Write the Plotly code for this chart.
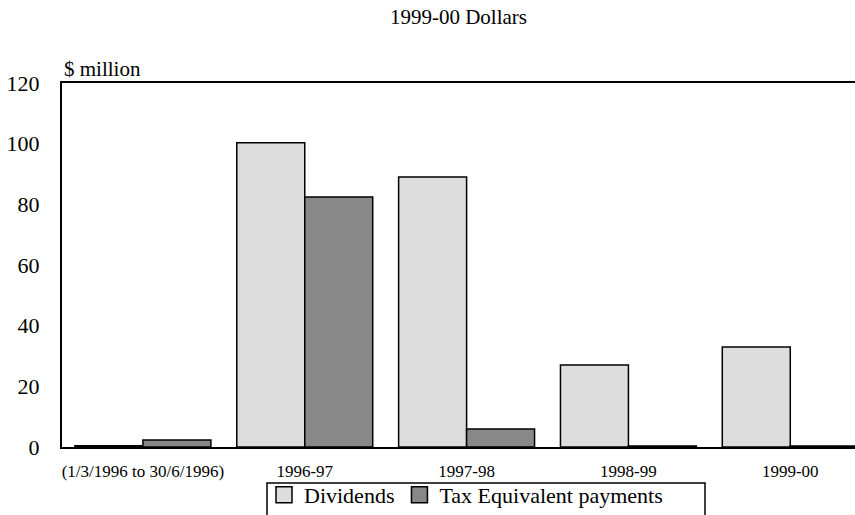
import plotly.graph_objects as go

categories = ["(1/3/1996 to 30/6/1996)", "1996-97", "1997-98", "1998-99", "1999-00"]
dividends = [0.4, 100.3, 89.0, 27.0, 33.0]
tax_equiv = [2.3, 82.4, 5.9, 0.3, 0.3]
y_ticks = [0, 20, 40, 60, 80, 100, 120]
series_names = ["Dividends", "Tax Equivalent payments"]
series_colors = ["#dddddd", "#888888"]

FONT = "Liberation Serif"

fig = go.Figure()
for name, vals, col in zip(series_names, [dividends, tax_equiv], series_colors):
    fig.add_trace(go.Bar(
        name=name, x=categories, y=vals, showlegend=False,
        marker=dict(color=col, line=dict(color="black", width=1.5)),
    ))
# legend-only entries with larger square swatches
for name, col in zip(series_names, series_colors):
    fig.add_trace(go.Scatter(
        name=name, x=[None], y=[None], mode="markers",
        marker=dict(symbol="square", size=17, color=col,
                    line=dict(color="black", width=1.5)),
    ))

fig.update_layout(
    width=855, height=515,
    margin=dict(l=62, r=0, t=83, b=68, autoexpand=False),
    paper_bgcolor="white", plot_bgcolor="white",
    font=dict(family=FONT, color="black", size=21),
    barmode="group", bargap=0.16, bargroupgap=0,
    showlegend=True,
    legend=dict(
        orientation="h", x=466 / 855, xref="container", xanchor="center",
        y=(515 - 474) / 515, yref="container", yanchor="top",
        borderwidth=0, bgcolor="rgba(0,0,0,0)",
        font=dict(family=FONT, size=22, color="black"),
        itemsizing="trace", itemwidth=30, traceorder="normal",
    ),
    title=dict(text="1999-00 Dollars", x=0.5, xref="paper", xanchor="center",
               y=1 - 17 / 515, yref="container", yanchor="middle",
               font=dict(family=FONT, size=21, color="black")),
    shapes=[dict(
        type="rect", xref="paper", yref="paper",
        x0=(267 - 62) / 793, x1=(705 - 62) / 793,
        y0=-0.25, y1=-(483 - 447) / 364,
        line=dict(color="black", width=1.5), fillcolor="rgba(0,0,0,0)",
        layer="below",
    )],
)

fig.update_xaxes(
    type="category", range=[-0.5, 4.4], automargin=False,
    showline=True, linecolor="black", linewidth=2, mirror=True,
    showgrid=False, ticks="", ticklabelstandoff=8,
    tickfont=dict(family=FONT, size=17, color="black"),
)
fig.update_yaxes(
    range=[0, 120], tickvals=y_ticks, automargin=False,
    showline=True, linecolor="black", linewidth=2,
    showgrid=False, zeroline=False, ticks="", ticklabelstandoff=16,
    tickfont=dict(family=FONT, size=22, color="black"),
)

fig.add_annotation(
    text="$ million", xref="paper", yref="paper", x=0, y=1,
    xanchor="left", yanchor="bottom", yshift=0, showarrow=False,
    font=dict(family=FONT, size=21, color="black"),
)

fig.write_html(
    "out.html",
    config={"displayModeBar": False},
    post_script="document.body.style.margin='0';document.body.style.padding='0';",
)
